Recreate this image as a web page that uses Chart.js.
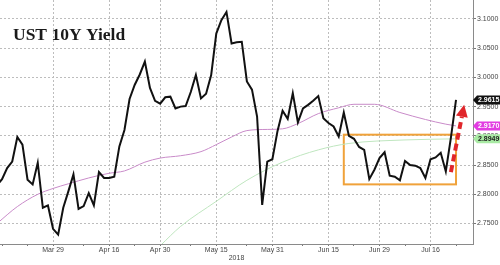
<!DOCTYPE html>
<html>
<head>
<meta charset="utf-8">
<script src="https://cdn.jsdelivr.net/npm/chart.js@4.4.1/dist/chart.umd.min.js"></script>
<style>
  html, body { margin: 0; padding: 0; background: #fff; }
  canvas { display: block; }
</style>
</head>
<body>
<canvas id="chart" width="500" height="265"></canvas>
<script>
// trading days on the chart (Mar 30, May 28 and Jul 4 are missing - holidays)
const dates = [
  'Mar 14', 'Mar 15', 'Mar 16', 'Mar 19', 'Mar 20', 'Mar 21', 'Mar 22', 'Mar 23', 'Mar 26', 'Mar 27',
  'Mar 28', 'Mar 29', 'Apr 2', 'Apr 3', 'Apr 4', 'Apr 5', 'Apr 6', 'Apr 9', 'Apr 10', 'Apr 11',
  'Apr 12', 'Apr 13', 'Apr 16', 'Apr 17', 'Apr 18', 'Apr 19', 'Apr 20', 'Apr 23', 'Apr 24', 'Apr 25',
  'Apr 26', 'Apr 27', 'Apr 30', 'May 1', 'May 2', 'May 3', 'May 4', 'May 7', 'May 8', 'May 9',
  'May 10', 'May 11', 'May 14', 'May 15', 'May 16', 'May 17', 'May 18', 'May 21', 'May 22', 'May 23',
  'May 24', 'May 25', 'May 29', 'May 30', 'May 31', 'Jun 1', 'Jun 4', 'Jun 5', 'Jun 6', 'Jun 7',
  'Jun 8', 'Jun 11', 'Jun 12', 'Jun 13', 'Jun 14', 'Jun 15', 'Jun 18', 'Jun 19', 'Jun 20', 'Jun 21',
  'Jun 22', 'Jun 25', 'Jun 26', 'Jun 27', 'Jun 28', 'Jun 29', 'Jul 2', 'Jul 3', 'Jul 5', 'Jul 6',
  'Jul 9', 'Jul 10', 'Jul 11', 'Jul 12', 'Jul 13', 'Jul 16', 'Jul 17', 'Jul 18', 'Jul 19', 'Jul 20',
  'Jul 23'
];
const yields = [
  2.815, 2.826, 2.845, 2.856, 2.898, 2.885, 2.825, 2.817, 2.854, 2.777,
  2.781, 2.741, 2.731, 2.777, 2.805, 2.834, 2.775, 2.780, 2.802, 2.781,
  2.838, 2.828, 2.828, 2.830, 2.882, 2.910, 2.963, 2.987, 3.005, 3.027,
  2.982, 2.960, 2.955, 2.966, 2.967, 2.947, 2.950, 2.951, 2.975, 3.004,
  2.964, 2.972, 3.004, 3.075, 3.098, 3.112, 3.058, 3.060, 3.061, 2.993,
  2.979, 2.933, 2.782, 2.856, 2.860, 2.908, 2.943, 2.929, 2.973, 2.923,
  2.947, 2.953, 2.960, 2.968, 2.930, 2.922, 2.916, 2.899, 2.940, 2.900,
  2.895, 2.881, 2.876, 2.826, 2.842, 2.862, 2.872, 2.832, 2.830, 2.824,
  2.857, 2.850, 2.849, 2.845, 2.828, 2.860, 2.863, 2.871, 2.839, 2.897,
  2.9615
];

const ma50Dates = ['Mar 14', 'Mar 20', 'Mar 26', 'Mar 29', 'Apr 4', 'Apr 10', 'Apr 16', 'Apr 19', 'Apr 25',
  'Apr 30', 'May 4', 'May 10', 'May 15', 'May 18', 'May 23', 'May 30', 'Jun 4', 'Jun 7', 'Jun 13',
  'Jun 19', 'Jun 22', 'Jun 28', 'Jul 6', 'Jul 13', 'Jul 19', 'Jul 23'];
const ma50Values = [2.750, 2.779, 2.800, 2.810, 2.818, 2.828, 2.836, 2.840, 2.855,
  2.862, 2.866, 2.873, 2.885, 2.898, 2.909, 2.911, 2.912, 2.921, 2.938,
  2.948, 2.954, 2.954, 2.940, 2.928, 2.920, 2.917];

const ma100Dates = ['Apr 30', 'May 4', 'May 15', 'May 23', 'Jun 4', 'Jun 13', 'Jun 21', 'Jul 9', 'Jul 23'];
const ma100Values = [2.712, 2.745, 2.788, 2.824, 2.855, 2.876, 2.887, 2.893, 2.8949];

const majorTickDates = ['Mar 29', 'Apr 16', 'Apr 30', 'May 15', 'May 31', 'Jun 15', 'Jun 29', 'Jul 16'];
const minorTickDates = ['Mar 15', 'Mar 22', 'Apr 9', 'Apr 23', 'May 8', 'May 23', 'Jun 8', 'Jun 22', 'Jul 9', 'Jul 23'];
const yTicks = [2.75, 2.80, 2.85, 2.90, 2.95, 3.00, 3.05, 3.10];

const chartTitle = 'UST 10Y Yield';
const yearLabel = '2018';

// range box and breakout arrow (in data units)
const boxDates = ['Jun 20', 'Jul 23'];
const boxRange = [2.817, 2.902];
const arrowFrom = [89.0, 2.838];
const arrowTo = [91.6, 2.953];

const tagColors = [
  { bg: '#111111', fg: '#ffffff' },
  { bg: '#e23de2', fg: '#ffffff' },
  { bg: '#a9eaa4', fg: '#222222' }
];

const idx = d => dates.indexOf(d);
const points = (ds, vs) => ds.map((d, i) => ({ x: idx(d), y: vs[i] }));

Chart.defaults.font.family = '"Liberation Sans", Arial, sans-serif';

const annotations = {
  id: 'annotations',
  beforeDatasetsDraw(chart) {
    const { ctx, scales: { x, y } } = chart;
    const x1 = x.getPixelForValue(idx(boxDates[0]));
    const x2 = x.getPixelForValue(idx(boxDates[1]));
    const y1 = y.getPixelForValue(boxRange[1]);
    const y2 = y.getPixelForValue(boxRange[0]);
    ctx.save();
    ctx.strokeStyle = '#f0a23a';
    ctx.lineWidth = 2;
    ctx.strokeRect(x1, y1, x2 - x1, y2 - y1);
    ctx.restore();
  },
  afterDatasetsDraw(chart) {
    const { ctx, scales: { x, y } } = chart;
    const sx = x.getPixelForValue(arrowFrom[0]), sy = y.getPixelForValue(arrowFrom[1]);
    const tx = x.getPixelForValue(arrowTo[0]), ty = y.getPixelForValue(arrowTo[1]);
    const len = Math.hypot(tx - sx, ty - sy);
    const ux = (tx - sx) / len, uy = (ty - sy) / len;
    const headLen = 12, headW = 6;
    const bx = tx - ux * headLen, by = ty - uy * headLen;
    ctx.save();
    ctx.strokeStyle = '#e0262b';
    ctx.fillStyle = '#e0262b';
    ctx.lineWidth = 4;
    ctx.setLineDash([7, 4]);
    ctx.beginPath();
    ctx.moveTo(sx, sy);
    ctx.lineTo(bx, by);
    ctx.stroke();
    ctx.setLineDash([]);
    ctx.beginPath();
    ctx.moveTo(tx, ty);
    ctx.lineTo(bx - uy * headW, by + ux * headW);
    ctx.lineTo(bx + uy * headW, by - ux * headW);
    ctx.closePath();
    ctx.fill();
    ctx.restore();
  },
  afterDraw(chart) {
    const { ctx, chartArea, scales: { y } } = chart;
    ctx.save();
    // title
    ctx.font = 'bold 17.5px "Liberation Serif", "Times New Roman", serif';
    ctx.fillStyle = '#1a1a1a';
    ctx.textBaseline = 'alphabetic';
    ctx.fillText(chartTitle, 13, 39.5);

    // last value tags on the right axis
    ctx.font = 'bold 7px "Liberation Sans", Arial, sans-serif';
    ctx.textBaseline = 'middle';
    chart.data.datasets.forEach((ds, i) => {
      const last = ds.data[ds.data.length - 1].y;
      const yc = y.getPixelForValue(last);
      const left = chartArea.right;
      ctx.fillStyle = tagColors[i].bg;
      ctx.beginPath();
      ctx.moveTo(left, yc);
      ctx.lineTo(left + 4, yc - 4.5);
      ctx.lineTo(500, yc - 4.5);
      ctx.lineTo(500, yc + 4.5);
      ctx.lineTo(left + 4, yc + 4.5);
      ctx.closePath();
      ctx.fill();
      ctx.fillStyle = tagColors[i].fg;
      ctx.fillText(last.toFixed(4), left + 5, yc + 0.5);
    });
    ctx.restore();
  }
};

new Chart(document.getElementById('chart'), {
  type: 'line',
  data: {
    datasets: [
      { label: 'UST 10Y', data: points(dates, yields), borderColor: '#111', borderWidth: 2, pointRadius: 0, tension: 0 },
      { label: 'MA 50', data: points(ma50Dates, ma50Values), borderColor: '#c98bc9', borderWidth: 1, pointRadius: 0, cubicInterpolationMode: 'monotone' },
      { label: 'MA 100', data: points(ma100Dates, ma100Values), borderColor: '#bfe6bf', borderWidth: 1, pointRadius: 0, cubicInterpolationMode: 'monotone' }
    ]
  },
  options: {
    responsive: false,
    animation: false,
    devicePixelRatio: 1,
    layout: { padding: 0 },
    plugins: { legend: { display: false }, tooltip: { enabled: false } },
    scales: {
      x: {
        type: 'linear',
        min: 0.6,
        max: 93.33,
        afterBuildTicks: s => {
          const major = majorTickDates.map(d => ({ value: idx(d), major: true }));
          const minor = minorTickDates.map(d => ({ value: idx(d), major: false }));
          s.ticks = major.concat(minor).sort((a, b) => a.value - b.value);
        },
        afterFit: s => { s.height = 21; s.paddingLeft = 0; s.paddingRight = 0; },
        ticks: {
          autoSkip: false, maxRotation: 0, padding: 0, color: '#444', font: { size: 7 },
          callback: v => majorTickDates.includes(dates[v]) ? dates[v] : ''
        },
        grid: {
          color: c => (c.tick && c.tick.major) ? '#bdbdbd' : 'rgba(0,0,0,0)',
          tickColor: '#777', tickLength: 2, lineWidth: 1
        },
        border: { color: '#8a8a8a', dash: [2, 2] },
        title: { display: true, text: yearLabel, color: '#444', font: { size: 7 }, padding: { top: 0, bottom: 3 } }
      },
      y: {
        position: 'right',
        min: 2.715,
        max: 3.1324,
        afterBuildTicks: s => { s.ticks = yTicks.map(v => ({ value: v })); },
        afterFit: s => { s.width = 27; s.paddingTop = 0; s.paddingBottom = 0; },
        ticks: { padding: 1, color: '#444', font: { size: 7 }, callback: v => v.toFixed(4) },
        grid: { color: '#bdbdbd', tickColor: '#777', tickLength: 3 },
        border: { color: '#8a8a8a', dash: [2, 2] }
      }
    }
  },
  plugins: [annotations]
});
</script>
</body>
</html>
